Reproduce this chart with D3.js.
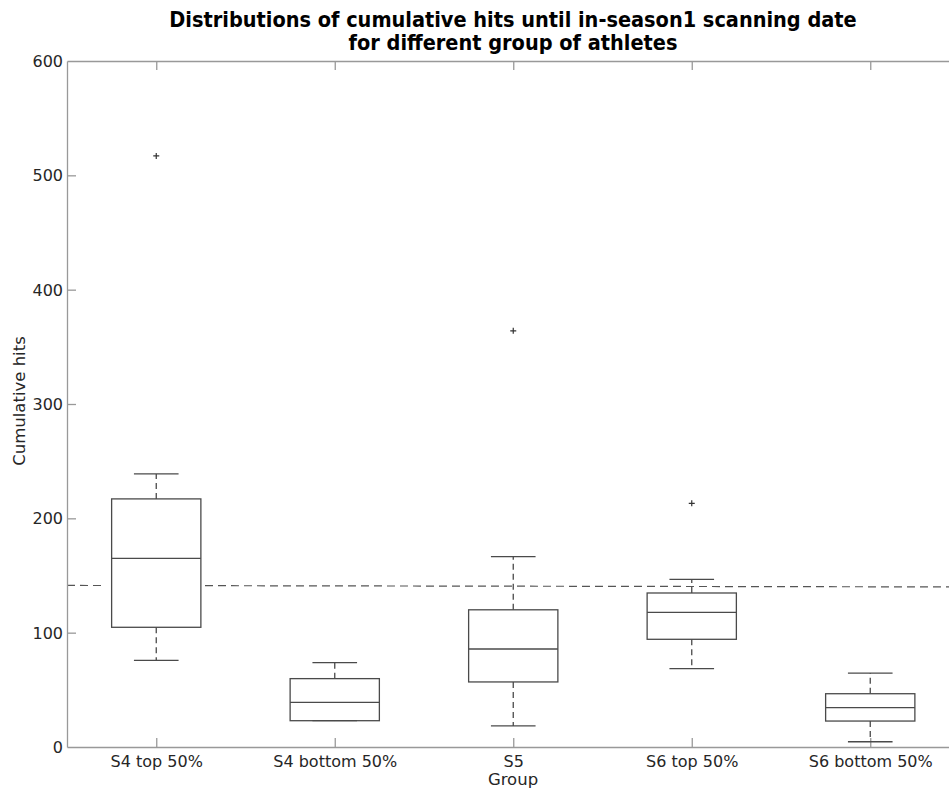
<!doctype html>
<html lang='en'>

<head>
    <meta charset='UTF-8'>
    <title>Cumulative hits</title>
    <style>
        html,
        body {
            margin: 0;
            background: #fff;
        }

        svg {
            display: block;
            font-family: "DejaVu Sans", sans-serif;
        }

        .title {
            font-family: "DejaVu Sans Condensed", "DejaVu Sans", sans-serif;
            font-stretch: condensed;
            font-weight: bold;
            font-size: 21.5px;
            fill: #000;
        }

        .tick text {
            font-size: 16px;
            fill: #262626;
        }

        .label {
            font-size: 16.5px;
            fill: #262626;
        }
    </style>
</head>

<body>
    <script src='https://d3js.org/d3.v7.min.js'></script>
    <div class='chart'></div>
    <script>
        const groups = ['S4 top 50%', 'S4 bottom 50%', 'S5', 'S6 top 50%', 'S6 bottom 50%'];

        // five-number summaries
        const whiskerLow = [75.8, 23, 18.4, 68.5, 4.6];
        const quartile1 = [104.7, 23, 56.9, 94.2, 22.7];
        const medians = [165, 39.1, 85.7, 117.8, 34.4];
        const quartile3 = [217, 59.8, 120, 134.7, 46.6];
        const whiskerHigh = [238.8, 73.8, 166.5, 146.6, 64.7];

        // outliers: [group index, value]
        const outliers = [[0, 517], [2, 364], [3, 213.1]];

        // horizontal dashed reference line (value at left and right edge)
        const refLine = [141.3, 140];
        const yTicks = [0, 100, 200, 300, 400, 500, 600];

        const width = 949;
        const height = 788;

        const config = {
            left: 67,
            top: 61,
            bottom: 747,
            step: 178.5,
            tickLen: 9,
            axisColor: '#999',
            boxColor: '#4a4a4a'
        };

        const svg = d3.select('.chart')
            .append('svg')
            .attr('width', width)
            .attr('height', height);

        const x = d3.scaleLinear()
            .domain([0.5, groups.length + 0.5])
            .range([config.left, config.left + config.step * groups.length]);

        const y = d3.scaleLinear()
            .domain([0, 600])
            .range([config.bottom, config.top]);

        // title
        const title = svg.append('text')
            .attr('class', 'title')
            .attr('text-anchor', 'middle')
            .attr('x', 513);
        title.append('tspan').attr('x', 513).attr('y', 27)
            .text('Distributions of cumulative hits until in-season1 scanning date');
        title.append('tspan').attr('x', 513).attr('y', 50)
            .text('for different group of athletes');

        // reference line, broken around the first box
        const ref = d3.scaleLinear().domain([0.5, groups.length + 0.5]).range(refLine);
        const refSegments = [[0.5, 0.7], [1.273, groups.length + 0.5]];
        svg.selectAll('.ref')
            .data(refSegments)
            .join('line')
            .attr('class', 'ref')
            .attr('x1', (d) => x(d[0]))
            .attr('x2', (d) => x(d[1]))
            .attr('y1', (d) => y(ref(d[0])))
            .attr('y2', (d) => y(ref(d[1])))
            .attr('stroke', '#555')
            .attr('stroke-width', 1.2)
            .attr('stroke-dasharray', '8,5');

        // axes
        const xAxis = d3.axisBottom(x)
            .tickValues(d3.range(1, groups.length + 1))
            .tickFormat((d) => groups[d - 1])
            .tickSizeInner(-config.tickLen)
            .tickSizeOuter(0)
            .tickPadding(9);

        const xTop = d3.axisTop(x)
            .tickValues(d3.range(1, groups.length + 1))
            .tickFormat('')
            .tickSizeInner(-config.tickLen)
            .tickSizeOuter(0);

        const yAxis = d3.axisLeft(y)
            .tickValues(yTicks)
            .tickSizeInner(-config.tickLen)
            .tickSizeOuter(0)
            .tickPadding(4);

        const gx = svg.append('g')
            .attr('transform', 'translate(0,' + config.bottom + ')')
            .call(xAxis);
        const gt = svg.append('g')
            .attr('transform', 'translate(0,' + config.top + ')')
            .call(xTop);
        const gy = svg.append('g')
            .attr('transform', 'translate(' + config.left + ',0)')
            .call(yAxis);

        [gx, gt, gy].forEach((g) => {
            g.select('.domain').attr('stroke', config.axisColor).attr('stroke-width', 1.3);
            g.selectAll('.tick line').attr('stroke', config.axisColor).attr('stroke-width', 1.3);
            g.attr('font-family', null).attr('font-size', null);
        });
        gy.selectAll('.tick text').attr('dy', '0.35em');
        gy.selectAll('.tick').filter((d) => d == 0 || d == 600).select('line').remove();

        // axis labels
        svg.append('text')
            .attr('class', 'label')
            .attr('text-anchor', 'middle')
            .attr('x', 513)
            .attr('y', 785)
            .text('Group');

        svg.append('text')
            .attr('class', 'label')
            .attr('text-anchor', 'middle')
            .attr('transform', 'translate(25,401) rotate(-90)')
            .text('Cumulative hits');

        // boxes
        const boxW = config.step * 0.5;
        const capW = boxW * 0.5;

        const data = groups.map((g, i) => ({
            i: i + 1,
            lo: whiskerLow[i],
            q1: quartile1[i],
            med: medians[i],
            q3: quartile3[i],
            hi: whiskerHigh[i]
        }));

        const box = svg.selectAll('.box')
            .data(data)
            .join('g')
            .attr('class', 'box')
            .attr('stroke', config.boxColor)
            .attr('stroke-width', 1.3)
            .attr('fill', 'none');

        // dashed whiskers
        box.append('line')
            .attr('x1', (d) => x(d.i)).attr('x2', (d) => x(d.i))
            .attr('y1', (d) => y(d.q3)).attr('y2', (d) => y(d.hi))
            .attr('stroke-dasharray', '6,4');
        box.append('line')
            .attr('x1', (d) => x(d.i)).attr('x2', (d) => x(d.i))
            .attr('y1', (d) => y(d.q1)).attr('y2', (d) => y(d.lo))
            .attr('stroke-dasharray', '6,4');

        // caps
        box.append('line')
            .attr('x1', (d) => x(d.i) - capW / 2).attr('x2', (d) => x(d.i) + capW / 2)
            .attr('y1', (d) => y(d.hi)).attr('y2', (d) => y(d.hi));
        box.append('line')
            .attr('x1', (d) => x(d.i) - capW / 2).attr('x2', (d) => x(d.i) + capW / 2)
            .attr('y1', (d) => y(d.lo)).attr('y2', (d) => y(d.lo));

        box.append('rect')
            .attr('x', (d) => x(d.i) - boxW / 2)
            .attr('width', boxW)
            .attr('y', (d) => y(d.q3))
            .attr('height', (d) => y(d.q1) - y(d.q3));

        box.append('line')
            .attr('x1', (d) => x(d.i) - boxW / 2).attr('x2', (d) => x(d.i) + boxW / 2)
            .attr('y1', (d) => y(d.med)).attr('y2', (d) => y(d.med));

        // outliers as '+'
        svg.selectAll('.outlier')
            .data(outliers)
            .join('path')
            .attr('class', 'outlier')
            .attr('d', (d) => {
                const cx = x(d[0] + 1);
                const cy = y(d[1]);
                return 'M' + (cx - 3) + ',' + cy + 'H' + (cx + 3) +
                    'M' + cx + ',' + (cy - 3) + 'V' + (cy + 3);
            })
            .attr('stroke', '#333')
            .attr('stroke-width', 1.2);
    </script>
</body>
</html>
